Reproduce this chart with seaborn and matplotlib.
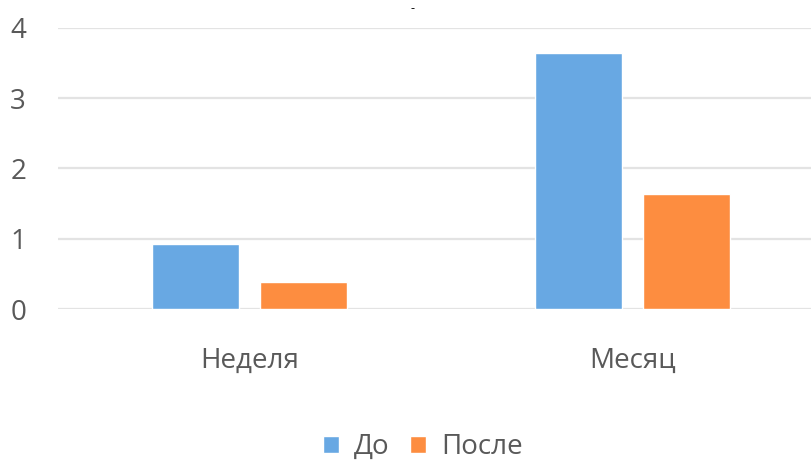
import matplotlib
matplotlib.use("Agg")
import matplotlib.pyplot as plt
import seaborn as sns
import pandas as pd

categories = ["Неделя", "Месяц"]
series_names = ["До", "После"]
before = [0.92, 3.65]
after = [0.39, 1.63]
yticks = [0, 1, 2, 3, 4]

sns.set_theme(style="white")
plt.rcParams['font.family'] = ['Open Sans', 'DejaVu Sans']

df = pd.DataFrame({
    "cat": categories * 2,
    "series": [series_names[0]] * 2 + [series_names[1]] * 2,
    "val": before + after,
})

W, H = 812, 463
fig = plt.figure(figsize=(W / 100, H / 100), dpi=100)
fig.patch.set_facecolor("white")
ax = fig.add_axes([58 / W, 154 / H, 766 / W, 281 / H])

palette = {"До": "#68A8E3", "После": "#FD8D40"}
sns.barplot(data=df, x="cat", y="val", hue="series", hue_order=series_names,
            order=categories, palette=palette, width=0.564, gap=0.194,
            saturation=1, ax=ax, legend=True, zorder=3)

ax.set_ylim(0, 4)
ax.set_xlim(-0.5, 1.5)
ax.set_yticks(yticks)
ax.set_yticklabels([str(t) for t in yticks])
ax.grid(axis="y", color="#e3e3e3", linewidth=1.6, zorder=0)
ax.grid(axis="x", visible=False)
for s in ax.spines.values():
    s.set_visible(False)
ax.set_xlabel("")
ax.set_ylabel("")
ax.tick_params(axis="y", length=0, pad=23, labelsize=20, labelcolor="#595959")
ax.tick_params(axis="x", length=0, pad=27, labelsize=20, labelcolor="#595959")

handles, labels = ax.get_legend_handles_labels()
ax.get_legend().remove()
fig.legend(handles, labels, loc="center", bbox_to_anchor=(0.521, 1 - 447 / H),
           ncol=2, frameon=False, fontsize=20, labelcolor="#595959",
           handlelength=0.55, handleheight=0.55, handletextpad=0.55,
           columnspacing=0.75)

fig.text(413 / W, 1 - 9 / H, "-", ha="center", va="center", fontsize=9, color="black")

fig.savefig("out.png", dpi=100, facecolor="white")
